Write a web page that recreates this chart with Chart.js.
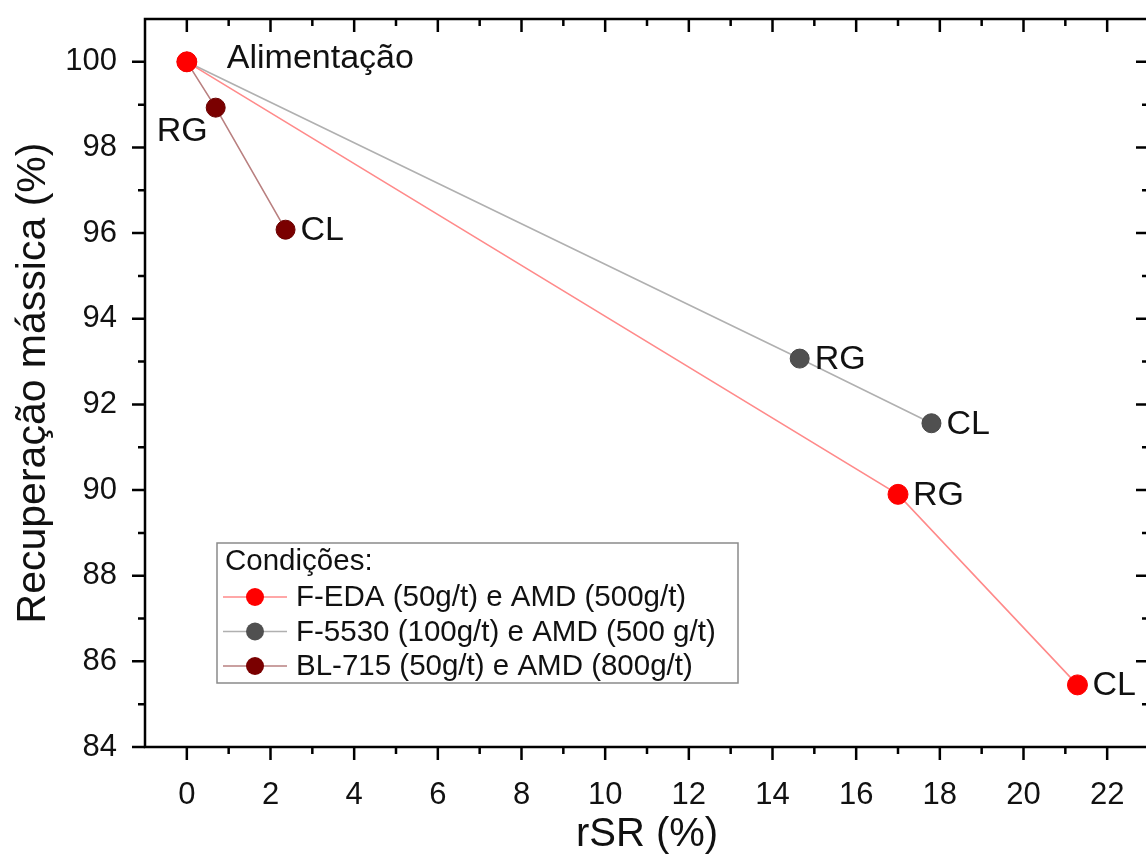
<!DOCTYPE html>
<html>
<head>
<meta charset="utf-8">
<script src="https://cdn.jsdelivr.net/npm/chart.js@4.4.1/dist/chart.umd.min.js"></script>
<style>
  html, body { margin: 0; padding: 0; background: #ffffff; overflow: hidden; }
  #wrap { width: 1160px; height: 859px; }
</style>
</head>
<body>
<div id="wrap"><canvas id="c" width="1160" height="859"></canvas></div>
<script>
// ---------- data ----------
const seriesNames = [
  'F-EDA (50g/t) e AMD (500g/t)',
  'F-5530 (100g/t) e AMD (500 g/t)',
  'BL-715 (50g/t) e AMD (800g/t)'
];
const rsrFEDA   = [0, 17.0, 21.29];
const recFEDA   = [100, 89.9, 85.45];
const rsrF5530  = [0, 14.65, 17.8];
const recF5530  = [100, 93.07, 91.56];
const rsrBL715  = [0, 0.69, 2.36];
const recBL715  = [100, 98.93, 96.08];
const labelsFEDA  = ['Alimentação', 'RG', 'CL'];
const labelsF5530 = ['', 'RG', 'CL'];
const labelsBL715 = ['', 'RG', 'CL'];
const xTickValues = [0, 2, 4, 6, 8, 10, 12, 14, 16, 18, 20, 22];
const yTickValues = [84, 86, 88, 90, 92, 94, 96, 98, 100];
const legendTitle = 'Condições:';
const xTitle = 'rSR (%)';
const yTitle = 'Recuperação mássica (%)';

function pts(xs, ys) { return xs.map((x, i) => ({ x: x, y: ys[i] })); }

const FONT = "'Liberation Sans', Arial, sans-serif";

const datasets = [
  { label: seriesNames[0], data: pts(rsrFEDA, recFEDA), pointLabels: labelsFEDA,
    borderColor: '#ff8a8a', backgroundColor: '#ff0000', pointBorderColor: '#ff0000', pointRadius: 10 },
  { label: seriesNames[1], data: pts(rsrF5530, recF5530), pointLabels: labelsF5530,
    borderColor: '#b0b0b0', backgroundColor: '#505050', pointBorderColor: '#474747', pointRadius: 9.5 },
  { label: seriesNames[2], data: pts(rsrBL715, recBL715), pointLabels: labelsBL715,
    borderColor: '#b98080', backgroundColor: '#7a0000', pointBorderColor: '#6a0000', pointRadius: 9.5 }
].map(d => Object.assign({ showLine: true, borderWidth: 1.6, pointBorderWidth: 1, tension: 0 }, d));

// ---------- plugins ----------
const framePlugin = {
  id: 'frame',
  afterDatasetsDraw(chart) {
    const ctx = chart.ctx, a = chart.chartArea;
    const xs = chart.scales.x, ys = chart.scales.y;
    ctx.save();
    ctx.strokeStyle = '#000';
    ctx.lineWidth = 2.5;
    ctx.beginPath();
    ctx.rect(a.left, a.top, a.right - a.left, a.bottom - a.top);
    ctx.stroke();
    const MAJ = 13, MIN = 7;
    for (let v = xs.min; v <= xs.max; v += 1) {
      const p = xs.getPixelForValue(v);
      if (p <= a.left + 1 || p >= a.right - 1) continue;
      const len = (v % 2 === 0) ? MAJ : MIN;
      ctx.beginPath();
      ctx.moveTo(p, a.bottom); ctx.lineTo(p, a.bottom + len);
      ctx.moveTo(p, a.top); ctx.lineTo(p, a.top + len);
      ctx.stroke();
    }
    for (let v = ys.min; v <= ys.max; v += 1) {
      const p = ys.getPixelForValue(v);
      if (p <= a.top + 1 || p >= a.bottom - 1) continue;
      const len = (v % 2 === 0) ? MAJ : MIN;
      ctx.beginPath();
      ctx.moveTo(a.left, p); ctx.lineTo(a.left - len, p);
      ctx.moveTo(a.right, p); ctx.lineTo(a.right - len, p);
      ctx.stroke();
    }
    ctx.beginPath();
    ctx.moveTo(a.left, a.bottom); ctx.lineTo(a.left - MAJ, a.bottom);
    ctx.stroke();
    ctx.restore();
  }
};

const labelPlugin = {
  id: 'ptlabels',
  afterDatasetsDraw(chart) {
    const ctx = chart.ctx;
    ctx.save();
    ctx.font = '34px ' + FONT;
    ctx.fillStyle = '#111';
    ctx.textBaseline = 'middle';
    chart.data.datasets.forEach((ds, di) => {
      const meta = chart.getDatasetMeta(di);
      meta.data.forEach((el, i) => {
        const txt = ds.pointLabels[i];
        if (!txt) return;
        const x = el.x, y = el.y;
        if (di === 2 && i === 1) {
          ctx.textAlign = 'right';
          ctx.fillText(txt, x - 8, y + 24);
        } else if (i === 0) {
          ctx.textAlign = 'left';
          ctx.fillText(txt, x + 40, y - 3);
        } else {
          ctx.textAlign = 'left';
          ctx.fillText(txt, x + 15, y + 1);
        }
      });
    });
    ctx.restore();
  }
};

const legendPlugin = {
  id: 'customLegend',
  afterDraw(chart) {
    const ctx = chart.ctx;
    const bx = 217, by = 543, bw = 521, bh = 140;
    ctx.save();
    ctx.fillStyle = '#ffffff';
    ctx.fillRect(bx, by, bw, bh);
    ctx.strokeStyle = '#8a8a8a';
    ctx.lineWidth = 1.5;
    ctx.strokeRect(bx, by, bw, bh);
    ctx.font = '29.5px ' + FONT;
    ctx.fillStyle = '#111';
    ctx.textBaseline = 'middle';
    ctx.textAlign = 'left';
    ctx.fillText(legendTitle, 225, 562);
    chart.data.datasets.forEach((ds, i) => {
      const y = 597 + i * 34.5;
      ctx.strokeStyle = ds.borderColor;
      ctx.lineWidth = 1.6;
      ctx.beginPath();
      ctx.moveTo(223, y); ctx.lineTo(287, y);
      ctx.stroke();
      ctx.beginPath();
      ctx.arc(255, y, 9, 0, Math.PI * 2);
      ctx.fillStyle = ds.backgroundColor;
      ctx.fill();
      ctx.fillStyle = '#111';
      ctx.fillText(ds.label, 296, y + 1);
    });
    ctx.restore();
  }
};

new Chart(document.getElementById('c'), {
  type: 'scatter',
  data: { datasets: datasets },
  options: {
    responsive: false,
    animation: false,
    devicePixelRatio: 1,
    layout: { padding: { left: 0, top: 19, right: 9, bottom: 0 } },
    plugins: { legend: { display: false }, tooltip: { enabled: false } },
    scales: {
      x: {
        type: 'linear', min: -1, max: 23,
        grid: { display: false },
        border: { display: false },
        afterBuildTicks: (s) => { s.ticks = xTickValues.map(v => ({ value: v })); },
        afterFit: (s) => { s.height = 112; s.paddingLeft = 0; s.paddingRight = 0; },
        ticks: { color: '#111', font: { family: FONT, size: 31 }, padding: 22, maxRotation: 0, autoSkip: false },
        title: { display: true, text: xTitle, color: '#111', font: { family: FONT, size: 40 }, padding: { top: 0, bottom: 0 } }
      },
      y: {
        type: 'linear', min: 84, max: 101,
        grid: { display: false },
        border: { display: false },
        afterBuildTicks: (s) => { s.ticks = yTickValues.map(v => ({ value: v })); },
        afterFit: (s) => { s.width = 145; s.paddingTop = 0; s.paddingBottom = 0; },
        ticks: { color: '#111', font: { family: FONT, size: 31 }, padding: 20, autoSkip: false },
        title: { display: true, text: yTitle, color: '#111', font: { family: FONT, size: 41 }, padding: { top: 9, bottom: 0 } }
      }
    }
  },
  plugins: [framePlugin, labelPlugin, legendPlugin]
});
</script>
</body>
</html>
